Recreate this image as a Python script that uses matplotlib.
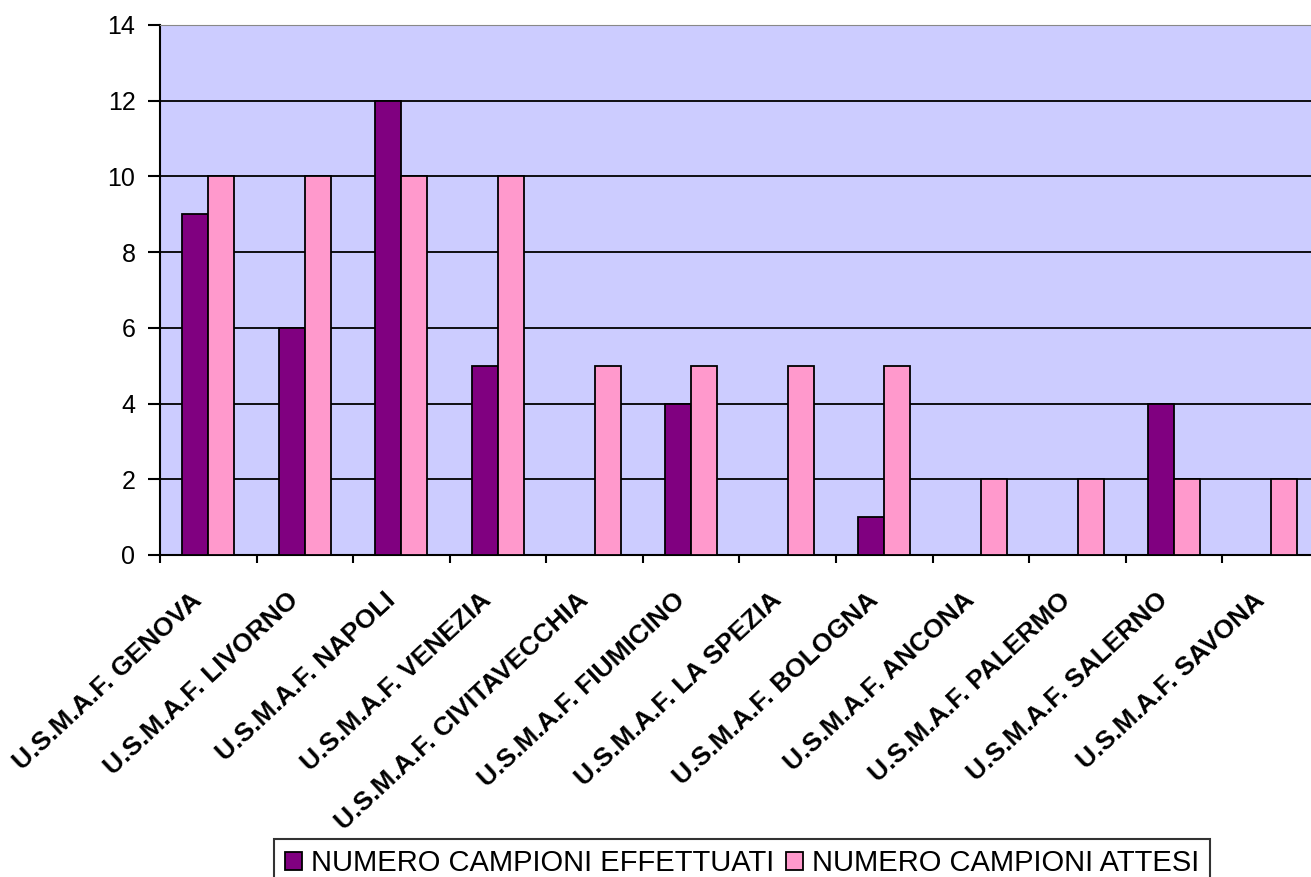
import matplotlib
matplotlib.use("Agg")
import matplotlib.pyplot as plt
import matplotlib.transforms as mtransforms
import numpy as np

# categories and values
sites = ["U.S.M.A.F. GENOVA", "U.S.M.A.F. LIVORNO", "U.S.M.A.F. NAPOLI",
         "U.S.M.A.F. VENEZIA", "U.S.M.A.F. CIVITAVECCHIA", "U.S.M.A.F. FIUMICINO",
         "U.S.M.A.F. LA SPEZIA", "U.S.M.A.F. BOLOGNA", "U.S.M.A.F. ANCONA",
         "U.S.M.A.F. PALERMO", "U.S.M.A.F. SALERNO", "U.S.M.A.F. SAVONA"]
effettuati = [9, 6, 12, 5, 0, 4, 0, 1, 0, 0, 4, 0]
attesi = [10, 10, 10, 10, 5, 5, 5, 5, 2, 2, 2, 2]
series_names = ["NUMERO CAMPIONI EFFETTUATI", "NUMERO CAMPIONI ATTESI"]
yticks = [0, 2, 4, 6, 8, 10, 12, 14]

plt.rcParams['font.family'] = ['Liberation Sans', 'DejaVu Sans']

fig = plt.figure(figsize=(13.11, 8.77), dpi=100)
# plot area runs a bit past the right edge, like the cropped original
ax = fig.add_axes([0.1220, 0.3672, 0.8841, 0.6043])
ax.set_facecolor('#CCCCFF')

x = np.arange(len(sites))
w = 0.27
ax.bar(x - w / 2, effettuati, w, color='#800080', edgecolor='black', linewidth=1.3,
       label=series_names[0], zorder=3)
ax.bar(x + w / 2, attesi, w, color='#FF99CC', edgecolor='black', linewidth=1.3,
       label=series_names[1], zorder=3)

ax.set_xlim(-0.5, len(sites) - 0.5)
ax.set_ylim(0, 14)
ax.set_yticks(yticks)
ax.set_yticklabels([str(v) for v in yticks], fontsize=18)
ax.yaxis.grid(True, color='black', linewidth=1.3)
ax.set_axisbelow(True)

# category ticks sit on the boundaries, labels at the centres
ax.set_xticks(np.arange(len(sites) + 1) - 0.5)
ax.set_xticklabels([])
ax.set_xticks(x, minor=True)
ax.set_xticklabels(sites, minor=True, rotation=43, ha='right', va='center',
                   rotation_mode='anchor', fontsize=19, fontweight='bold')
ax.tick_params(axis='x', which='minor', length=0, pad=33)
ax.tick_params(axis='x', which='major', length=6, width=1.5, direction='out')
ax.tick_params(axis='y', length=8.6, width=1.5, direction='out', pad=9)

# nudge the slanted labels a little to the left
shift = mtransforms.ScaledTranslation(-0.10, 0.04, fig.dpi_scale_trans)
for lbl in ax.get_xticklabels(minor=True):
    lbl.set_transform(lbl.get_transform() + shift)

ax.spines['left'].set_linewidth(1.5)
ax.spines['bottom'].set_linewidth(1.5)
ax.spines['top'].set_color('#888888')
ax.spines['right'].set_visible(False)

leg = fig.legend(loc='upper center', bbox_to_anchor=(742 / 1311, 1 - 839 / 877),
                 ncol=2, fontsize=21, frameon=True, fancybox=False,
                 handlelength=0.6, handleheight=0.6, handletextpad=0.3,
                 columnspacing=0.4, borderpad=0.35, borderaxespad=0)
leg.get_frame().set_edgecolor('black')
leg.get_frame().set_linewidth(1.5)

fig.savefig('out.png', dpi=100)
